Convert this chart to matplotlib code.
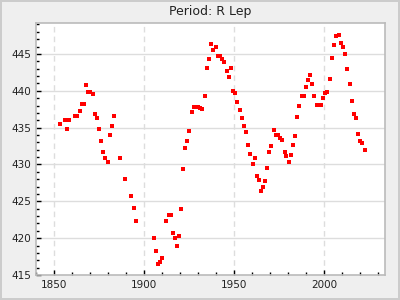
import matplotlib
matplotlib.use("Agg")
import matplotlib.pyplot as plt
from matplotlib.ticker import MultipleLocator

# datos: ano, periodo (dias)
years = [1853.3, 1856.1, 1857.2, 1858.5, 1861.7, 1863.0, 1864.4, 1865.6, 1866.9,
         1867.8, 1868.9, 1870.1, 1871.7, 1872.8, 1873.9, 1875.0, 1876.1, 1877.2,
         1878.3, 1880.0, 1881.1, 1882.2, 1883.3, 1886.7, 1889.4, 1892.8, 1894.4,
         1895.6, 1905.6, 1906.7, 1907.8, 1908.9, 1910.0, 1912.2, 1913.9, 1915.0,
         1916.1, 1917.2, 1918.3, 1919.4, 1920.6, 1921.7, 1922.8, 1923.9, 1925.0,
         1926.7, 1927.8, 1928.9, 1930.0, 1931.1, 1932.2, 1933.9, 1935.0, 1936.1,
         1937.2, 1938.3, 1940.0, 1941.1, 1942.2, 1943.3, 1944.4, 1946.1, 1947.2,
         1948.3, 1949.4, 1950.6, 1951.7, 1953.3, 1954.4, 1955.6, 1956.7, 1957.8,
         1958.9, 1960.6, 1961.7, 1962.8, 1963.9, 1965.0, 1966.1, 1967.2, 1968.3,
         1969.4, 1970.6, 1972.2, 1973.3, 1974.4, 1975.6, 1976.7, 1978.3, 1978.9,
         1980.6, 1981.7, 1982.8, 1983.9, 1985.0, 1986.1, 1987.8, 1988.9, 1990.0,
         1991.1, 1992.2, 1993.3, 1994.4, 1996.1, 1998.3, 1999.4, 2000.6, 2001.7,
         2003.3, 2004.4, 2005.6, 2006.7, 2008.3, 2009.4, 2010.6, 2011.7, 2012.8,
         2014.4, 2015.6, 2016.7, 2017.8, 2018.9, 2020.0, 2021.1, 2022.8]
periods = [435.5, 436.0, 434.8, 436.0, 436.6, 436.6, 437.2, 438.2, 438.2,
           440.8, 439.8, 439.8, 439.6, 436.8, 436.3, 434.8, 433.2, 431.7,
           430.9, 430.3, 434.0, 435.2, 436.6, 430.9, 428.0, 425.7, 424.1,
           422.3, 420.0, 418.2, 416.5, 416.7, 417.3, 422.3, 423.1, 423.1,
           420.7, 420.0, 418.9, 420.3, 423.9, 429.4, 432.2, 433.2, 434.5,
           437.1, 437.8, 437.8, 437.8, 437.6, 437.5, 439.3, 443.1, 444.3,
           446.3, 445.5, 445.9, 444.7, 444.7, 444.3, 443.9, 442.7, 441.9,
           443.1, 440.0, 439.7, 438.5, 437.4, 436.3, 435.2, 434.4, 432.6,
           431.4, 430.0, 430.9, 428.5, 427.9, 426.4, 426.9, 427.7, 429.5,
           431.7, 432.5, 434.7, 434.0, 434.0, 433.6, 433.3, 431.7, 431.1,
           430.4, 431.3, 432.6, 433.8, 436.4, 437.9, 439.3, 439.3, 440.5,
           441.5, 442.1, 440.9, 439.3, 438.1, 438.1, 439.0, 439.7, 439.8,
           441.6, 444.4, 446.2, 447.4, 447.6, 446.5, 445.9, 445.0, 442.9,
           440.9, 438.6, 436.8, 436.3, 434.1, 433.2, 432.9, 431.9]
titulo = "Period: R Lep"

fig = plt.figure(figsize=(4, 3), dpi=100)
fig.patch.set_facecolor("#efefef")
fig.patch.set_edgecolor("#cccccc")
fig.patch.set_linewidth(1.5)
ax = fig.add_axes([0.09, 0.0833, 0.8725, 0.84])

ax.plot(years, periods, "s", color="#ff0000", markersize=3.3, markeredgewidth=0, zorder=3)

ax.set_xlim(1840, 2034)
ax.set_ylim(415, 449.2)
ax.xaxis.set_major_locator(MultipleLocator(50))
ax.xaxis.set_minor_locator(MultipleLocator(10))
ax.yaxis.set_major_locator(MultipleLocator(5))
ax.yaxis.set_minor_locator(MultipleLocator(1))

ax.grid(True, axis="x", which="major", color="#dddddd", linestyle=(0, (4, 3)), linewidth=1)
ax.grid(True, axis="y", which="major", color="#dddddd", linestyle="-", linewidth=1)
ax.set_axisbelow(True)

ax.tick_params(which="both", direction="in", colors="black", labelcolor="#222222",
               labelsize=7.5, top=False, right=False)
ax.tick_params(which="major", length=3.8, width=1)
ax.tick_params(which="minor", length=2.4, width=1)

for s in ax.spines.values():
    s.set_color("#bbbbbb")
    s.set_linewidth(1.2)

ax.set_title(titulo, fontsize=9, color="#222222", pad=6)

fig.savefig("out.png", dpi=100, facecolor=fig.get_facecolor(), edgecolor=fig.get_edgecolor())
